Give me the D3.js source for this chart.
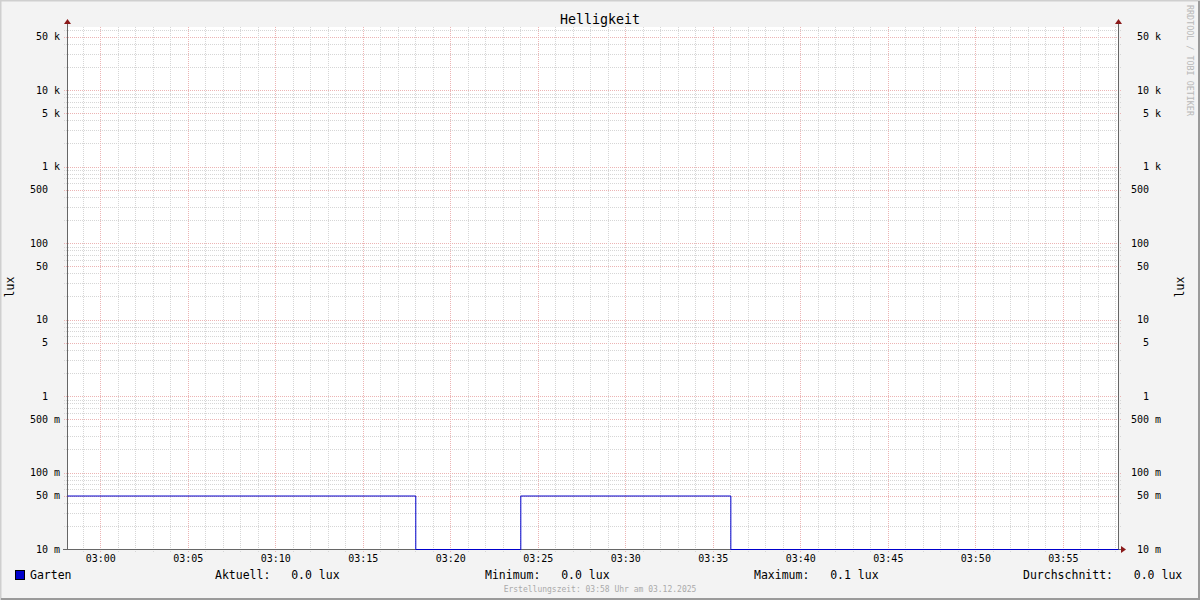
<!DOCTYPE html>
<html><head><meta charset="utf-8">
<script src="https://cdn.jsdelivr.net/npm/d3@7"></script>
<style>
html,body{margin:0;padding:0;background:#f3f3f3;}
svg text{font-family:"DejaVu Sans Mono",monospace;white-space:pre;}
</style></head>
<body>
<svg id="c" width="1200" height="600"></svg>
<script>
// ---- data ----
const title = "Helligkeit";
const seriesName = "Garten";
const times = ["02:58:06","03:18:00","03:24:00","03:36:00","03:58:09"];
const values = [0.05, 0, 0.05, 0, 0];
const yTickValues = [0.01,0.05,0.1,0.5,1,5,10,50,100,500,1000,5000,10000,50000];
const yTickLabels = ["10 m","50 m","100 m","500 m","1  ","5  ","10  ","50  ","100  ","500  ","1 k","5 k","10 k","50 k"];
const legendLabels = ["Aktuell:","Minimum:","Maximum:","Durchschnitt:"];
const legendValues = ["0.0 lux","0.0 lux","0.1 lux","0.0 lux"];
const unitLabel = "lux";
const footer = "Erstellungszeit: 03:58 Uhr am 03.12.2025";
const watermark = "RRDTOOL / TOBI OETIKER";
const timeStart = "02:58:06", timeEnd = "03:58:09";

// ---- layout ----
const W=1200,H=600;
const L=67,R=1118,T=27,B=549;
const svg=d3.select("#c");
const parse=d3.timeParse("%H:%M:%S");

// background & bevel frame
svg.append("rect").attr("x",0).attr("y",0).attr("width",W).attr("height",H).attr("fill","#f3f3f3");
svg.append("path").attr("d",`M0.5,${H} V0.5 H${W}`).attr("stroke","#cfcfcf").attr("stroke-width",2).attr("fill","none");
svg.append("path").attr("d",`M1,${H-1} H${W-1} V1`).attr("stroke","#9a9a9a").attr("stroke-width",2).attr("fill","none");

// plot area
svg.append("rect").attr("x",L).attr("y",T).attr("width",R-L).attr("height",B-T).attr("fill","#ffffff");

const x=d3.scaleTime().domain([parse(timeStart),parse(timeEnd)]).range([L,R]);
const yMin=0.01;
const decadePx=76.5;
const yMax=Math.pow(10,Math.log10(yMin)+(B-T)/decadePx);
const y=d3.scaleLog().domain([yMin,yMax]).range([B,T]);

const minorCol="#d6d6d6";
const majorCol="#ecb4b4";

// horizontal grid
const gH=svg.append("g");
for(let e=-2;e<=4;e++){
  for(let m=1;m<=9;m++){
    const v=m*Math.pow(10,e);
    if(v<yMin||v>yMax) continue;
    const major=(m===1||m===5);
    const yy=Math.round(y(v))+0.5;
    gH.append("line").attr("x1",L-3).attr("x2",R+3).attr("y1",yy).attr("y2",yy)
      .attr("stroke",major?majorCol:minorCol).attr("stroke-width",1).attr("stroke-dasharray","1,1");
  }
}
// vertical grid
const gV=svg.append("g");
x.ticks(d3.timeMinute.every(1)).forEach(t=>{
  const major=t.getMinutes()%5===0;
  const xx=Math.round(x(t))+0.5;
  gV.append("line").attr("x1",xx).attr("x2",xx).attr("y1",T).attr("y2",B+3)
    .attr("stroke",major?majorCol:minorCol).attr("stroke-width",1).attr("stroke-dasharray","1,1");
});

// axes lines
const axCol="#666";
svg.append("line").attr("x1",L+0.5).attr("x2",L+0.5).attr("y1",T-5).attr("y2",B+0.5).attr("stroke",axCol);
svg.append("line").attr("x1",R+0.5).attr("x2",R+0.5).attr("y1",T-5).attr("y2",B+0.5).attr("stroke",axCol);
svg.append("line").attr("x1",L-4).attr("x2",R+3).attr("y1",B+0.5).attr("y2",B+0.5).attr("stroke",axCol);
// arrows
const arrowCol="#8b1a1a";
svg.append("path").attr("d",`M${L-3},${T-3} L${L+0.5},${T-8} L${L+4},${T-3} Z`).attr("fill",arrowCol);
svg.append("path").attr("d",`M${R-3},${T-3} L${R+0.5},${T-8} L${R+4},${T-3} Z`).attr("fill",arrowCol);
svg.append("path").attr("d",`M${R+3},${B-3} L${R+8},${B+0.5} L${R+3},${B+4} Z`).attr("fill",arrowCol);

// y labels (left & right)
yTickValues.forEach((v,i)=>{
  svg.append("text").attr("x",60).attr("y",y(v)).attr("dy","0.35em").attr("text-anchor","end")
    .attr("font-size",10).attr("fill","#000").text(yTickLabels[i]);
  svg.append("text").attr("x",1161).attr("y",y(v)).attr("dy","0.35em").attr("text-anchor","end")
    .attr("font-size",10).attr("fill","#000").text(yTickLabels[i]);
});
// x labels
const xAxis=d3.axisBottom(x).ticks(d3.timeMinute.every(5)).tickFormat(d3.timeFormat("%H:%M")).tickSize(0).tickPadding(6);
const gx=svg.append("g").attr("transform",`translate(0,${B})`).call(xAxis);
gx.select(".domain").remove();
gx.selectAll("text").attr("font-size",10).attr("font-family","DejaVu Sans Mono").attr("fill","#000");

// data line
const data=times.map((t,i)=>({t:parse(t),v:values[i]}));
const line=d3.line().x(d=>x(d.t)).y(d=>y(Math.max(d.v,yMin))).curve(d3.curveStepAfter);
svg.append("path").datum(data).attr("d",line).attr("fill","none").attr("stroke","#0000cc").attr("stroke-width",1)
  .attr("transform","translate(0.5,0.5)");

// title
svg.append("text").attr("x",600).attr("y",24).attr("text-anchor","middle").attr("font-size",13.3).attr("fill","#000").text(title);
// unit labels
svg.append("text").attr("transform","translate(14,287) rotate(-90)").attr("text-anchor","middle").attr("font-size",11.5).attr("fill","#000").text(unitLabel);
svg.append("text").attr("transform","translate(1184,287) rotate(-90)").attr("text-anchor","middle").attr("font-size",11.5).attr("fill","#000").text(unitLabel);
// watermark
svg.append("text").attr("transform","translate(1187,5) rotate(90)").attr("text-anchor","start").attr("font-size",8.4).attr("fill","#b8b8b8").text(watermark);

// legend
svg.append("rect").attr("x",15.5).attr("y",570.5).attr("width",9).attr("height",9).attr("fill","#0000cc").attr("stroke","#000");
svg.append("text").attr("x",30).attr("y",579).attr("font-size",11.5).attr("fill","#000").text(seriesName);
const legX=[215,485,754,1023];
legendLabels.forEach((lab,i)=>{
  svg.append("text").attr("x",legX[i]).attr("y",579).attr("font-size",11.5).attr("fill","#000")
    .text(lab+"   "+legendValues[i]);
});
// footer
svg.append("text").attr("x",600).attr("y",592).attr("text-anchor","middle").attr("font-size",8).attr("fill","#aaaaaa").text(footer);
</script>
</body></html>
